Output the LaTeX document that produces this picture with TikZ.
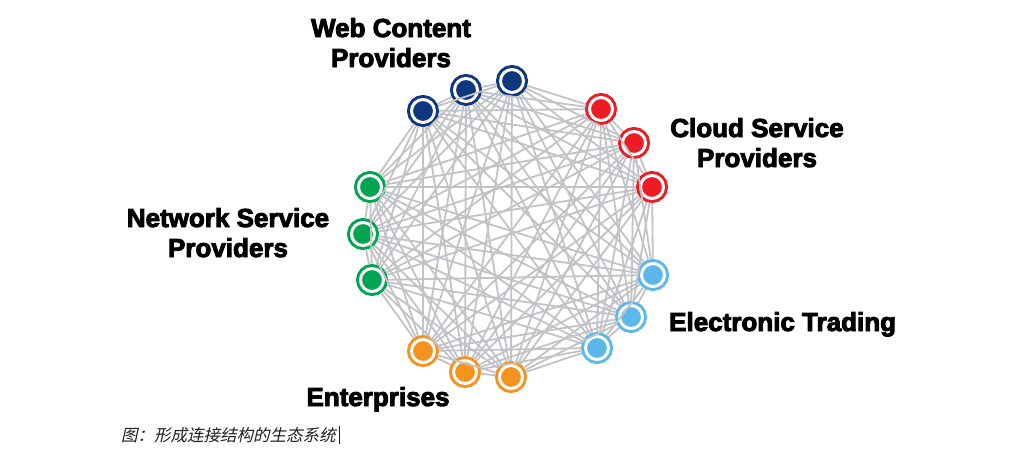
\documentclass[tikz,border=0pt]{standalone}
\usepackage{fontspec}
\newfontfamily\lblfont[FakeBold=3.5]{Liberation Sans Bold}
\newfontfamily\cjk[FakeSlant=0.22]{Noto Sans CJK SC}
\definecolor{cnavy}{RGB}{14,55,125}
\definecolor{cred}{RGB}{236,28,36}
\definecolor{cblue}{RGB}{92,184,232}
\definecolor{corange}{RGB}{246,146,30}
\definecolor{cgreen}{RGB}{0,164,80}
\definecolor{cedge}{RGB}{194,195,199}
\definecolor{ccap}{RGB}{30,30,30}
\tikzset{
  hub/.style={circle, minimum size=23pt, inner sep=0pt, fill=#1, draw=#1,
    line width=3pt, double=white, double distance=3pt, outer sep=4.5pt},
  edge/.style={draw=cedge, line width=1.8pt},
  grouplabel/.style={font=\lblfont\fontsize{26}{30}\selectfont, text=black, inner sep=0pt, align=center},
  caption/.style={font=\cjk\fontsize{16.5}{20}\selectfont, text=ccap, inner sep=0pt}
}
\begin{document}
\begin{tikzpicture}[x=1pt,y=-1pt]
\useasboundingbox (0,0) rectangle (1024,469);
% hubs
\node[hub=cnavy]   (n1)  at (423,111) {};
\node[hub=cnavy]   (n2)  at (466,90)  {};
\node[hub=cnavy]   (n3)  at (512,81)  {};
\node[hub=cred]    (n4)  at (601,109) {};
\node[hub=cred]    (n5)  at (634,143) {};
\node[hub=cred]    (n6)  at (652,187) {};
\node[hub=cblue]   (n7)  at (653,275) {};
\node[hub=cblue]   (n8)  at (631,317) {};
\node[hub=cblue]   (n9)  at (597,348) {};
\node[hub=corange] (n10) at (511,377) {};
\node[hub=corange] (n11) at (465,372) {};
\node[hub=corange] (n12) at (423,351) {};
\node[hub=cgreen]  (n13) at (372,280) {};
\node[hub=cgreen]  (n14) at (363,234) {};
\node[hub=cgreen]  (n15) at (370,187) {};
% connectors: every pair
\foreach \i in {1,...,14}{
  \pgfmathtruncatemacro\nxt{\i+1}
  \foreach \j in {\nxt,...,15}{
    \draw[edge] (n\i) -- (n\j);
  }
}
% labels
\node[grouplabel, anchor=base] (lweb) at (391,67) {Web Content\\Providers};
\node[grouplabel, anchor=base] (lcloud) at (757,167) {Cloud Service\\Providers};
\node[grouplabel, anchor=base] (lnet) at (228,257) {Network Service\\Providers};
\node[grouplabel, anchor=base west] (ltrade) at (669,331) {Electronic Trading};
\node[grouplabel, anchor=base] (lent) at (378,406) {Enterprises};
% caption
\node[caption, anchor=base west] (cap) at (121,441) {图：形成连接结构的生态系统};
\draw[ccap, line width=0.6pt] (cap.east) ++(3,-9) -- ++(0,18);
\end{tikzpicture}
\end{document}
